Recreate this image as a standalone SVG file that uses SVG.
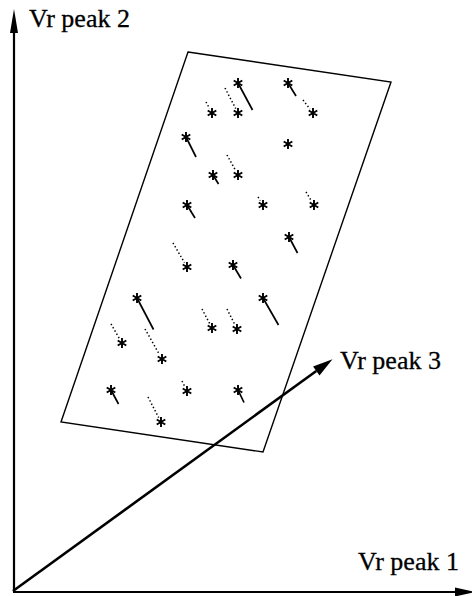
<svg xmlns="http://www.w3.org/2000/svg" xmlns:xlink="http://www.w3.org/1999/xlink" width="472" height="596" viewBox="0 0 472 596">
<style>
.lbl{font-family:"Liberation Serif","Times New Roman",serif;font-size:26px;fill:#000;stroke:#000;stroke-width:0.3}
.axis{stroke:#000;stroke-width:2.2;fill:none}
.diag{stroke:#000;stroke-width:2.6;fill:none}
.region{stroke:#000;stroke-width:1.4;fill:none;stroke-linejoin:miter}
.tail{stroke:#000;stroke-width:1.7;fill:none}
.dot{stroke:#000;stroke-width:1.5;fill:none;stroke-dasharray:1.4 2.3}
.star{stroke:#000;stroke-width:1.9;fill:none}
</style>
<defs>
<marker id="ahV" markerUnits="userSpaceOnUse" markerWidth="26" markerHeight="10" refX="0" refY="4" orient="auto" overflow="visible">
<path d="M0,0 L24,4 L0,8 z" fill="#000"/>
</marker>
<marker id="ahH" markerUnits="userSpaceOnUse" markerWidth="22" markerHeight="10" refX="0" refY="4.5" orient="auto" overflow="visible">
<path d="M0,0 L20,4.5 L0,9 z" fill="#000"/>
</marker>
<marker id="ahD" markerUnits="userSpaceOnUse" markerWidth="22" markerHeight="12" refX="0" refY="5.5" orient="auto" overflow="visible">
<path d="M0,0 L20,5.5 L0,11 z" fill="#000"/>
</marker>
<symbol id="ast" overflow="visible">
<path class="star" d="M0,-5V5M-4.3,-2.5L4.3,2.5M-4.3,2.5L4.3,-2.5"/>
</symbol>
</defs>
<rect width="472" height="596" fill="#fff"/>
<g id="connectors">
<line class="axis" x1="14" y1="592" x2="14" y2="33" marker-end="url(#ahV)"/>
<line class="axis" x1="13" y1="592" x2="455" y2="592" marker-end="url(#ahH)"/>
<line class="diag" x1="13" y1="591" x2="316.3" y2="371" marker-end="url(#ahD)"/>
</g>
<g id="label-peak2"><text class="lbl" x="29" y="27">Vr peak 2</text></g>
<g id="label-peak3"><text class="lbl" x="340" y="369">Vr peak 3</text></g>
<g id="label-peak1"><text class="lbl" x="358" y="570">Vr peak 1</text></g>
<g id="region"><polygon class="region" points="188,52 391,82 263,452 61,422"/></g>
<g id="points">
<g id="s1"><line class="tail" x1="238" y1="83" x2="252.5" y2="110"/><use xlink:href="#ast" x="238" y="83"/></g>
<g id="s2"><line class="tail" x1="288" y1="83" x2="296" y2="96"/><use xlink:href="#ast" x="288" y="83"/></g>
<g id="s3"><line class="tail" x1="186" y1="137" x2="196" y2="157"/><use xlink:href="#ast" x="186" y="137"/></g>
<g id="s4"><line class="tail" x1="213" y1="175" x2="218.5" y2="184"/><use xlink:href="#ast" x="213" y="175"/></g>
<g id="s5"><line class="tail" x1="187" y1="205" x2="195" y2="218"/><use xlink:href="#ast" x="187" y="205"/></g>
<g id="s6"><line class="tail" x1="289" y1="237" x2="297.5" y2="253"/><use xlink:href="#ast" x="289" y="237"/></g>
<g id="s7"><line class="tail" x1="233" y1="265" x2="241" y2="278.5"/><use xlink:href="#ast" x="233" y="265"/></g>
<g id="s8"><line class="tail" x1="137" y1="298" x2="153.5" y2="329.5"/><use xlink:href="#ast" x="137" y="298"/></g>
<g id="s9"><line class="tail" x1="263" y1="298" x2="278.5" y2="325"/><use xlink:href="#ast" x="263" y="298"/></g>
<g id="s10"><line class="tail" x1="111" y1="390" x2="118.5" y2="404"/><use xlink:href="#ast" x="111" y="390"/></g>
<g id="s11"><line class="tail" x1="238" y1="390" x2="244" y2="402.5"/><use xlink:href="#ast" x="238" y="390"/></g>
<g id="p1"><use xlink:href="#ast" x="288" y="144"/></g>
<g id="d1"><line class="dot" x1="303" y1="100" x2="310" y2="109"/><use xlink:href="#ast" x="313" y="113"/></g>
<g id="d2"><line class="dot" x1="206" y1="102" x2="209.6" y2="108.6"/><use xlink:href="#ast" x="212" y="113"/></g>
<g id="d3"><line class="dot" x1="225" y1="88" x2="235.7" y2="108.6"/><use xlink:href="#ast" x="238" y="113"/></g>
<g id="d4"><line class="dot" x1="227" y1="155" x2="235.6" y2="170.6"/><use xlink:href="#ast" x="238" y="175"/></g>
<g id="d5"><line class="dot" x1="258" y1="197" x2="260.3" y2="200.7"/><use xlink:href="#ast" x="263" y="205"/></g>
<g id="d6"><line class="dot" x1="306" y1="192" x2="311.4" y2="200.8"/><use xlink:href="#ast" x="314" y="205"/></g>
<g id="d7"><line class="dot" x1="173" y1="243" x2="184.5" y2="262.7"/><use xlink:href="#ast" x="187" y="267"/></g>
<g id="d8"><line class="dot" x1="202" y1="309" x2="209.7" y2="323.6"/><use xlink:href="#ast" x="212" y="328"/></g>
<g id="d9"><line class="dot" x1="227" y1="309" x2="234.8" y2="324.5"/><use xlink:href="#ast" x="237" y="329"/></g>
<g id="d10"><line class="dot" x1="111" y1="324" x2="119.5" y2="338.7"/><use xlink:href="#ast" x="122" y="343"/></g>
<g id="d11"><line class="dot" x1="145" y1="329" x2="159.5" y2="354.6"/><use xlink:href="#ast" x="162" y="359"/></g>
<g id="d12"><line class="dot" x1="182" y1="381" x2="184.8" y2="386.5"/><use xlink:href="#ast" x="187" y="391"/></g>
<g id="d13"><line class="dot" x1="148" y1="397" x2="158.7" y2="417.6"/><use xlink:href="#ast" x="161" y="422"/></g>
</g>
</svg>
